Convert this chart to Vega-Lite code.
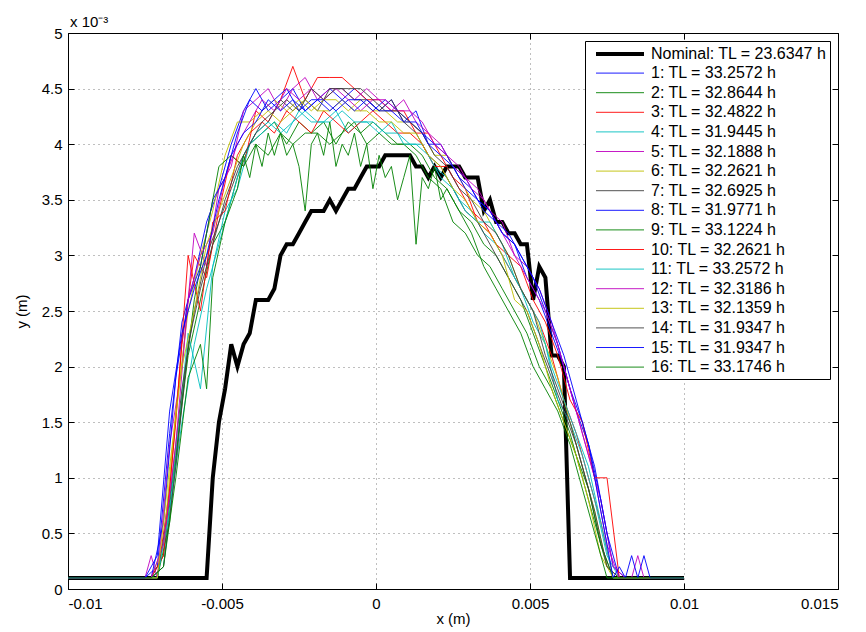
{
"$schema":"https://vega.github.io/schema/vega-lite/v6.json",
"width":770,"height":556,
"autosize":{"type":"none"},
"padding":{"left":68,"top":33,"right":28,"bottom":43},
"background":"#ffffff",
"title":{"text":"x 10⁻³","anchor":"start","frame":"group","offset":-4,"dx":2,"font":"Liberation Sans","fontSize":15,"fontWeight":"normal","color":"#000"},
"config":{
"font":"Liberation Sans",
"view":{"stroke":"#000","strokeWidth":1},
"axis":{"domain":false,"labelFont":"Liberation Sans","labelFontSize":15,"labelColor":"#000","titleFont":"Liberation Sans","titleFontSize":15,"titleFontWeight":"normal","titleColor":"#000","tickColor":"#000","tickSize":-6,"gridColor":"#000","gridDash":[1,4],"gridOpacity":0.5,"gridWidth":1},
"axisX":{"labelPadding":13,"titlePadding":0},
"axisY":{"labelPadding":12,"titlePadding":12},
"legend":{"orient":"top-right","offset":8,"title":null,"strokeColor":"#000","fillColor":"#fff","padding":3,"labelFont":"Liberation Sans","labelFontSize":16,"labelColor":"#000","symbolType":"M-3,0H3","symbolSize":256,"symbolOffset":22,"rowPadding":2.6,"labelOffset":21,"labelLimit":400}
},
"data":{"values":[
{"s":0,"x":-0.01,"y":0.1},{"s":0,"x":-0.0055,"y":0.1},{"s":0,"x":-0.0053,"y":1.0},{"s":0,"x":-0.0051,"y":1.5},{"s":0,"x":-0.0049,"y":1.8},{"s":0,"x":-0.0047,"y":2.2},{"s":0,"x":-0.0045,"y":2.0},{"s":0,"x":-0.0043,"y":2.2},{"s":0,"x":-0.0041,"y":2.3},{"s":0,"x":-0.0039,"y":2.6},{"s":0,"x":-0.0037,"y":2.6},{"s":0,"x":-0.0035,"y":2.6},{"s":0,"x":-0.0033,"y":2.7},{"s":0,"x":-0.0031,"y":3.0},{"s":0,"x":-0.0029,"y":3.1},{"s":0,"x":-0.0027,"y":3.1},{"s":0,"x":-0.0025,"y":3.2},{"s":0,"x":-0.0023,"y":3.3},{"s":0,"x":-0.0021,"y":3.4},{"s":0,"x":-0.0019,"y":3.4},{"s":0,"x":-0.0017,"y":3.4},{"s":0,"x":-0.0015,"y":3.5},{"s":0,"x":-0.0013,"y":3.4},{"s":0,"x":-0.0011,"y":3.5},{"s":0,"x":-0.0009,"y":3.6},{"s":0,"x":-0.0007,"y":3.6},{"s":0,"x":-0.0005,"y":3.7},{"s":0,"x":-0.0003,"y":3.8},{"s":0,"x":-0.0001,"y":3.8},{"s":0,"x":0.0001,"y":3.8},{"s":0,"x":0.0003,"y":3.9},{"s":0,"x":0.0011,"y":3.9},{"s":0,"x":0.0013,"y":3.8},{"s":0,"x":0.0015,"y":3.8},{"s":0,"x":0.0017,"y":3.7},{"s":0,"x":0.0019,"y":3.8},{"s":0,"x":0.0021,"y":3.7},{"s":0,"x":0.0023,"y":3.8},{"s":0,"x":0.0027,"y":3.8},{"s":0,"x":0.0029,"y":3.7},{"s":0,"x":0.0033,"y":3.7},{"s":0,"x":0.0035,"y":3.4},{"s":0,"x":0.0037,"y":3.5},{"s":0,"x":0.0039,"y":3.3},{"s":0,"x":0.0041,"y":3.3},{"s":0,"x":0.0043,"y":3.2},{"s":0,"x":0.0045,"y":3.2},{"s":0,"x":0.0047,"y":3.1},{"s":0,"x":0.0049,"y":3.1},{"s":0,"x":0.0051,"y":2.6},{"s":0,"x":0.0053,"y":2.9},{"s":0,"x":0.0055,"y":2.8},{"s":0,"x":0.0057,"y":2.1},{"s":0,"x":0.0059,"y":2.1},{"s":0,"x":0.0061,"y":2.0},{"s":0,"x":0.0063,"y":0.1},{"s":0,"x":0.01,"y":0.1},

{"s":1,"x":-0.01,"y":0.1},{"s":1,"x":-0.0075,"y":0.1},{"s":1,"x":-0.0071,"y":0.2},{"s":1,"x":-0.0067,"y":1.4},{"s":1,"x":-0.0063,"y":2.4},{"s":1,"x":-0.0059,"y":2.8},{"s":1,"x":-0.0055,"y":3.3},{"s":1,"x":-0.0051,"y":3.6},{"s":1,"x":-0.0047,"y":4.0},{"s":1,"x":-0.0043,"y":4.3},{"s":1,"x":-0.0039,"y":4.5},{"s":1,"x":-0.0035,"y":4.3},{"s":1,"x":-0.0031,"y":4.4},{"s":1,"x":-0.0027,"y":4.5},{"s":1,"x":-0.0023,"y":4.3},{"s":1,"x":-0.0019,"y":4.4},{"s":1,"x":-0.0015,"y":4.5},{"s":1,"x":-0.0011,"y":4.4},{"s":1,"x":-0.0007,"y":4.5},{"s":1,"x":-0.0003,"y":4.4},{"s":1,"x":0.0001,"y":4.3},{"s":1,"x":0.0005,"y":4.4},{"s":1,"x":0.0009,"y":4.2},{"s":1,"x":0.0013,"y":4.3},{"s":1,"x":0.0017,"y":4.0},{"s":1,"x":0.0021,"y":4.0},{"s":1,"x":0.0025,"y":3.8},{"s":1,"x":0.0029,"y":3.7},{"s":1,"x":0.0033,"y":3.5},{"s":1,"x":0.0037,"y":3.4},{"s":1,"x":0.0041,"y":3.2},{"s":1,"x":0.0045,"y":3.1},{"s":1,"x":0.0049,"y":2.8},{"s":1,"x":0.0053,"y":2.6},{"s":1,"x":0.0057,"y":2.3},{"s":1,"x":0.0061,"y":2.0},{"s":1,"x":0.0065,"y":1.6},{"s":1,"x":0.0069,"y":1.3},{"s":1,"x":0.0073,"y":0.8},{"s":1,"x":0.0077,"y":0.2},{"s":1,"x":0.0081,"y":0.1},{"s":1,"x":0.01,"y":0.1},

{"s":2,"x":-0.01,"y":0.1},{"s":2,"x":-0.0073,"y":0.1},{"s":2,"x":-0.0069,"y":0.3},{"s":2,"x":-0.0065,"y":1.2},{"s":2,"x":-0.0061,"y":2.1},{"s":2,"x":-0.0057,"y":2.6},{"s":2,"x":-0.0053,"y":3.1},{"s":2,"x":-0.0049,"y":3.3},{"s":2,"x":-0.0045,"y":3.7},{"s":2,"x":-0.0041,"y":4.0},{"s":2,"x":-0.0037,"y":4.1},{"s":2,"x":-0.0033,"y":4.2},{"s":2,"x":-0.0029,"y":4.0},{"s":2,"x":-0.0025,"y":4.2},{"s":2,"x":-0.0021,"y":4.1},{"s":2,"x":-0.0017,"y":4.2},{"s":2,"x":-0.0013,"y":4.0},{"s":2,"x":-0.0009,"y":4.2},{"s":2,"x":-0.0005,"y":4.1},{"s":2,"x":-0.0001,"y":4.2},{"s":2,"x":0.0003,"y":4.1},{"s":2,"x":0.0007,"y":4.0},{"s":2,"x":0.0011,"y":4.0},{"s":2,"x":0.0015,"y":3.9},{"s":2,"x":0.0019,"y":3.7},{"s":2,"x":0.0023,"y":3.6},{"s":2,"x":0.0027,"y":3.4},{"s":2,"x":0.0031,"y":3.3},{"s":2,"x":0.0035,"y":3.1},{"s":2,"x":0.0039,"y":3.0},{"s":2,"x":0.0043,"y":2.8},{"s":2,"x":0.0047,"y":2.6},{"s":2,"x":0.0051,"y":2.3},{"s":2,"x":0.0055,"y":2.0},{"s":2,"x":0.0059,"y":1.7},{"s":2,"x":0.0063,"y":1.4},{"s":2,"x":0.0067,"y":1.0},{"s":2,"x":0.0071,"y":0.6},{"s":2,"x":0.0075,"y":0.2},{"s":2,"x":0.0079,"y":0.1},{"s":2,"x":0.01,"y":0.1},

{"s":3,"x":-0.01,"y":0.1},{"s":3,"x":-0.0075,"y":0.1},{"s":3,"x":-0.0071,"y":0.1},{"s":3,"x":-0.0067,"y":0.9},{"s":3,"x":-0.0063,"y":2.2},{"s":3,"x":-0.0059,"y":3.0},{"s":3,"x":-0.0055,"y":2.8},{"s":3,"x":-0.0051,"y":3.4},{"s":3,"x":-0.0047,"y":3.9},{"s":3,"x":-0.0043,"y":3.8},{"s":3,"x":-0.0039,"y":4.3},{"s":3,"x":-0.0035,"y":4.2},{"s":3,"x":-0.0031,"y":4.4},{"s":3,"x":-0.0027,"y":4.7},{"s":3,"x":-0.0023,"y":4.4},{"s":3,"x":-0.0019,"y":4.6},{"s":3,"x":-0.0015,"y":4.6},{"s":3,"x":-0.0011,"y":4.6},{"s":3,"x":-0.0007,"y":4.5},{"s":3,"x":-0.0003,"y":4.4},{"s":3,"x":0.0001,"y":4.4},{"s":3,"x":0.0005,"y":4.3},{"s":3,"x":0.0009,"y":4.3},{"s":3,"x":0.0013,"y":4.1},{"s":3,"x":0.0017,"y":4.1},{"s":3,"x":0.0021,"y":3.9},{"s":3,"x":0.0025,"y":3.7},{"s":3,"x":0.0029,"y":3.6},{"s":3,"x":0.0033,"y":3.3},{"s":3,"x":0.0037,"y":3.2},{"s":3,"x":0.0041,"y":3.0},{"s":3,"x":0.0045,"y":2.8},{"s":3,"x":0.0049,"y":2.6},{"s":3,"x":0.0053,"y":2.4},{"s":3,"x":0.0057,"y":2.1},{"s":3,"x":0.0061,"y":1.7},{"s":3,"x":0.0065,"y":1.4},{"s":3,"x":0.0069,"y":1.0},{"s":3,"x":0.0073,"y":0.6},{"s":3,"x":0.0077,"y":0.1},{"s":3,"x":0.01,"y":0.1},

{"s":4,"x":-0.01,"y":0.1},{"s":4,"x":-0.0073,"y":0.1},{"s":4,"x":-0.0069,"y":0.2},{"s":4,"x":-0.0065,"y":1.2},{"s":4,"x":-0.0061,"y":2.3},{"s":4,"x":-0.0057,"y":1.8},{"s":4,"x":-0.0053,"y":2.9},{"s":4,"x":-0.0049,"y":3.4},{"s":4,"x":-0.0045,"y":3.6},{"s":4,"x":-0.0041,"y":4.0},{"s":4,"x":-0.0037,"y":4.1},{"s":4,"x":-0.0033,"y":4.2},{"s":4,"x":-0.0029,"y":4.1},{"s":4,"x":-0.0025,"y":4.3},{"s":4,"x":-0.0021,"y":4.2},{"s":4,"x":-0.0017,"y":4.2},{"s":4,"x":-0.0013,"y":4.3},{"s":4,"x":-0.0009,"y":4.1},{"s":4,"x":-0.0005,"y":4.2},{"s":4,"x":-0.0001,"y":4.2},{"s":4,"x":0.0003,"y":4.1},{"s":4,"x":0.0007,"y":4.1},{"s":4,"x":0.0011,"y":4.0},{"s":4,"x":0.0015,"y":4.0},{"s":4,"x":0.0019,"y":3.8},{"s":4,"x":0.0023,"y":3.7},{"s":4,"x":0.0027,"y":3.5},{"s":4,"x":0.0031,"y":3.4},{"s":4,"x":0.0035,"y":3.2},{"s":4,"x":0.0039,"y":3.1},{"s":4,"x":0.0043,"y":2.9},{"s":4,"x":0.0047,"y":2.7},{"s":4,"x":0.0051,"y":2.4},{"s":4,"x":0.0055,"y":2.2},{"s":4,"x":0.0059,"y":1.7},{"s":4,"x":0.0063,"y":1.5},{"s":4,"x":0.0067,"y":1.2},{"s":4,"x":0.0071,"y":0.8},{"s":4,"x":0.0075,"y":0.3},{"s":4,"x":0.0079,"y":0.1},{"s":4,"x":0.01,"y":0.1},

{"s":5,"x":-0.01,"y":0.1},{"s":5,"x":-0.0075,"y":0.1},{"s":5,"x":-0.0073,"y":0.3},{"s":5,"x":-0.0071,"y":0.1},{"s":5,"x":-0.0067,"y":1.3},{"s":5,"x":-0.0063,"y":2.0},{"s":5,"x":-0.0059,"y":3.2},{"s":5,"x":-0.0055,"y":2.9},{"s":5,"x":-0.0051,"y":3.6},{"s":5,"x":-0.0047,"y":3.8},{"s":5,"x":-0.0043,"y":4.3},{"s":5,"x":-0.0039,"y":4.4},{"s":5,"x":-0.0035,"y":4.5},{"s":5,"x":-0.0031,"y":4.3},{"s":5,"x":-0.0027,"y":4.5},{"s":5,"x":-0.0023,"y":4.6},{"s":5,"x":-0.0019,"y":4.4},{"s":5,"x":-0.0015,"y":4.5},{"s":5,"x":-0.0011,"y":4.5},{"s":5,"x":-0.0007,"y":4.4},{"s":5,"x":-0.0003,"y":4.5},{"s":5,"x":0.0001,"y":4.4},{"s":5,"x":0.0005,"y":4.3},{"s":5,"x":0.0009,"y":4.4},{"s":5,"x":0.0013,"y":4.2},{"s":5,"x":0.0017,"y":4.1},{"s":5,"x":0.0021,"y":4.0},{"s":5,"x":0.0025,"y":3.8},{"s":5,"x":0.0029,"y":3.7},{"s":5,"x":0.0033,"y":3.6},{"s":5,"x":0.0037,"y":3.4},{"s":5,"x":0.0041,"y":3.3},{"s":5,"x":0.0045,"y":3.0},{"s":5,"x":0.0049,"y":2.9},{"s":5,"x":0.0053,"y":2.7},{"s":5,"x":0.0057,"y":2.4},{"s":5,"x":0.0061,"y":2.0},{"s":5,"x":0.0065,"y":1.6},{"s":5,"x":0.0069,"y":1.2},{"s":5,"x":0.0073,"y":0.8},{"s":5,"x":0.0077,"y":0.2},{"s":5,"x":0.0081,"y":0.1},{"s":5,"x":0.01,"y":0.1},

{"s":6,"x":-0.01,"y":0.1},{"s":6,"x":-0.0073,"y":0.1},{"s":6,"x":-0.0069,"y":0.4},{"s":6,"x":-0.0065,"y":1.6},{"s":6,"x":-0.0061,"y":2.5},{"s":6,"x":-0.0057,"y":3.0},{"s":6,"x":-0.0053,"y":3.4},{"s":6,"x":-0.0049,"y":3.9},{"s":6,"x":-0.0045,"y":4.2},{"s":6,"x":-0.0041,"y":4.2},{"s":6,"x":-0.0037,"y":4.3},{"s":6,"x":-0.0033,"y":4.4},{"s":6,"x":-0.0029,"y":4.3},{"s":6,"x":-0.0025,"y":4.4},{"s":6,"x":-0.0021,"y":4.3},{"s":6,"x":-0.0017,"y":4.4},{"s":6,"x":-0.0013,"y":4.4},{"s":6,"x":-0.0009,"y":4.3},{"s":6,"x":-0.0005,"y":4.4},{"s":6,"x":-0.0001,"y":4.3},{"s":6,"x":0.0003,"y":4.3},{"s":6,"x":0.0007,"y":4.2},{"s":6,"x":0.0011,"y":4.2},{"s":6,"x":0.0015,"y":4.1},{"s":6,"x":0.0019,"y":3.9},{"s":6,"x":0.0023,"y":3.9},{"s":6,"x":0.0027,"y":3.7},{"s":6,"x":0.0031,"y":3.5},{"s":6,"x":0.0035,"y":3.4},{"s":6,"x":0.0039,"y":3.2},{"s":6,"x":0.0043,"y":3.0},{"s":6,"x":0.0047,"y":2.7},{"s":6,"x":0.0051,"y":2.5},{"s":6,"x":0.0055,"y":2.2},{"s":6,"x":0.0059,"y":1.9},{"s":6,"x":0.0063,"y":1.5},{"s":6,"x":0.0067,"y":1.1},{"s":6,"x":0.0071,"y":0.7},{"s":6,"x":0.0075,"y":0.2},{"s":6,"x":0.0079,"y":0.1},{"s":6,"x":0.01,"y":0.1},

{"s":7,"x":-0.01,"y":0.1},{"s":7,"x":-0.0075,"y":0.1},{"s":7,"x":-0.0071,"y":0.1},{"s":7,"x":-0.0067,"y":0.8},{"s":7,"x":-0.0063,"y":1.8},{"s":7,"x":-0.0059,"y":2.5},{"s":7,"x":-0.0055,"y":3.0},{"s":7,"x":-0.0051,"y":3.3},{"s":7,"x":-0.0047,"y":3.6},{"s":7,"x":-0.0043,"y":3.9},{"s":7,"x":-0.0039,"y":4.1},{"s":7,"x":-0.0035,"y":4.2},{"s":7,"x":-0.0031,"y":4.4},{"s":7,"x":-0.0027,"y":4.3},{"s":7,"x":-0.0023,"y":4.4},{"s":7,"x":-0.0019,"y":4.3},{"s":7,"x":-0.0015,"y":4.5},{"s":7,"x":-0.0011,"y":4.5},{"s":7,"x":-0.0007,"y":4.4},{"s":7,"x":-0.0003,"y":4.4},{"s":7,"x":0.0001,"y":4.3},{"s":7,"x":0.0005,"y":4.4},{"s":7,"x":0.0009,"y":4.2},{"s":7,"x":0.0013,"y":4.1},{"s":7,"x":0.0017,"y":3.9},{"s":7,"x":0.0021,"y":3.8},{"s":7,"x":0.0025,"y":3.6},{"s":7,"x":0.0029,"y":3.4},{"s":7,"x":0.0033,"y":3.3},{"s":7,"x":0.0037,"y":3.1},{"s":7,"x":0.0041,"y":2.9},{"s":7,"x":0.0045,"y":2.7},{"s":7,"x":0.0049,"y":2.5},{"s":7,"x":0.0053,"y":2.2},{"s":7,"x":0.0057,"y":1.9},{"s":7,"x":0.0061,"y":1.6},{"s":7,"x":0.0065,"y":1.3},{"s":7,"x":0.0069,"y":0.9},{"s":7,"x":0.0073,"y":0.4},{"s":7,"x":0.0077,"y":0.1},{"s":7,"x":0.01,"y":0.1},

{"s":8,"x":-0.01,"y":0.1},{"s":8,"x":-0.0073,"y":0.1},{"s":8,"x":-0.0069,"y":0.6},{"s":8,"x":-0.0065,"y":1.9},{"s":8,"x":-0.0061,"y":2.6},{"s":8,"x":-0.0057,"y":2.9},{"s":8,"x":-0.0053,"y":3.5},{"s":8,"x":-0.0049,"y":3.7},{"s":8,"x":-0.0045,"y":4.1},{"s":8,"x":-0.0041,"y":4.4},{"s":8,"x":-0.0037,"y":4.3},{"s":8,"x":-0.0033,"y":4.4},{"s":8,"x":-0.0029,"y":4.5},{"s":8,"x":-0.0025,"y":4.3},{"s":8,"x":-0.0021,"y":4.4},{"s":8,"x":-0.0017,"y":4.4},{"s":8,"x":-0.0013,"y":4.3},{"s":8,"x":-0.0009,"y":4.4},{"s":8,"x":-0.0005,"y":4.4},{"s":8,"x":-0.0001,"y":4.3},{"s":8,"x":0.0003,"y":4.4},{"s":8,"x":0.0007,"y":4.3},{"s":8,"x":0.0011,"y":4.2},{"s":8,"x":0.0015,"y":4.1},{"s":8,"x":0.0019,"y":4.0},{"s":8,"x":0.0023,"y":3.9},{"s":8,"x":0.0027,"y":3.7},{"s":8,"x":0.0031,"y":3.6},{"s":8,"x":0.0035,"y":3.4},{"s":8,"x":0.0039,"y":3.3},{"s":8,"x":0.0043,"y":3.2},{"s":8,"x":0.0047,"y":3.0},{"s":8,"x":0.0051,"y":2.8},{"s":8,"x":0.0055,"y":2.5},{"s":8,"x":0.0059,"y":2.2},{"s":8,"x":0.0063,"y":1.8},{"s":8,"x":0.0067,"y":1.5},{"s":8,"x":0.0071,"y":1.1},{"s":8,"x":0.0075,"y":0.5},{"s":8,"x":0.0079,"y":0.1},{"s":8,"x":0.01,"y":0.1},

{"s":9,"x":-0.01,"y":0.1},{"s":9,"x":-0.0075,"y":0.1},{"s":9,"x":-0.0071,"y":0.1},{"s":9,"x":-0.0067,"y":0.6},{"s":9,"x":-0.0063,"y":1.7},{"s":9,"x":-0.0059,"y":2.6},{"s":9,"x":-0.0055,"y":3.2},{"s":9,"x":-0.0051,"y":3.8},{"s":9,"x":-0.0047,"y":3.9},{"s":9,"x":-0.0043,"y":3.8},{"s":9,"x":-0.0039,"y":4.0},{"s":9,"x":-0.0035,"y":3.9},{"s":9,"x":-0.0031,"y":4.1},{"s":9,"x":-0.0027,"y":4.0},{"s":9,"x":-0.0023,"y":4.1},{"s":9,"x":-0.0019,"y":4.1},{"s":9,"x":-0.0015,"y":4.0},{"s":9,"x":-0.0011,"y":4.1},{"s":9,"x":-0.0007,"y":4.2},{"s":9,"x":-0.0003,"y":4.0},{"s":9,"x":0.0001,"y":4.1},{"s":9,"x":0.0005,"y":4.0},{"s":9,"x":0.0009,"y":4.0},{"s":9,"x":0.0013,"y":3.9},{"s":9,"x":0.0017,"y":3.7},{"s":9,"x":0.0021,"y":3.6},{"s":9,"x":0.0025,"y":3.3},{"s":9,"x":0.0029,"y":3.2},{"s":9,"x":0.0033,"y":3.0},{"s":9,"x":0.0037,"y":2.9},{"s":9,"x":0.0041,"y":2.7},{"s":9,"x":0.0045,"y":2.5},{"s":9,"x":0.0049,"y":2.3},{"s":9,"x":0.0053,"y":2.0},{"s":9,"x":0.0057,"y":1.8},{"s":9,"x":0.0061,"y":1.5},{"s":9,"x":0.0065,"y":1.2},{"s":9,"x":0.0069,"y":0.9},{"s":9,"x":0.0073,"y":0.4},{"s":9,"x":0.0077,"y":0.1},{"s":9,"x":0.01,"y":0.1},

{"s":10,"x":-0.01,"y":0.1},{"s":10,"x":-0.0073,"y":0.1},{"s":10,"x":-0.0069,"y":0.3},{"s":10,"x":-0.0065,"y":1.5},{"s":10,"x":-0.0061,"y":3.0},{"s":10,"x":-0.0057,"y":2.5},{"s":10,"x":-0.0053,"y":3.3},{"s":10,"x":-0.0049,"y":3.4},{"s":10,"x":-0.0045,"y":3.9},{"s":10,"x":-0.0041,"y":4.1},{"s":10,"x":-0.0037,"y":4.2},{"s":10,"x":-0.0033,"y":4.1},{"s":10,"x":-0.0029,"y":4.3},{"s":10,"x":-0.0025,"y":4.2},{"s":10,"x":-0.0021,"y":4.1},{"s":10,"x":-0.0017,"y":4.3},{"s":10,"x":-0.0013,"y":4.2},{"s":10,"x":-0.0009,"y":4.1},{"s":10,"x":-0.0005,"y":4.2},{"s":10,"x":-0.0001,"y":4.3},{"s":10,"x":0.0003,"y":4.2},{"s":10,"x":0.0007,"y":4.1},{"s":10,"x":0.0011,"y":4.1},{"s":10,"x":0.0015,"y":4.0},{"s":10,"x":0.0019,"y":3.8},{"s":10,"x":0.0023,"y":3.8},{"s":10,"x":0.0027,"y":3.6},{"s":10,"x":0.0031,"y":3.4},{"s":10,"x":0.0035,"y":3.3},{"s":10,"x":0.0039,"y":3.1},{"s":10,"x":0.0043,"y":3.0},{"s":10,"x":0.0047,"y":2.9},{"s":10,"x":0.0051,"y":2.6},{"s":10,"x":0.0055,"y":2.4},{"s":10,"x":0.0059,"y":2.1},{"s":10,"x":0.0063,"y":1.7},{"s":10,"x":0.0067,"y":1.5},{"s":10,"x":0.0071,"y":1.0},{"s":10,"x":0.0075,"y":1.0},{"s":10,"x":0.0079,"y":0.1},{"s":10,"x":0.01,"y":0.1},

{"s":11,"x":-0.01,"y":0.1},{"s":11,"x":-0.0075,"y":0.1},{"s":11,"x":-0.0071,"y":0.1},{"s":11,"x":-0.0067,"y":0.7},{"s":11,"x":-0.0063,"y":1.5},{"s":11,"x":-0.0059,"y":2.2},{"s":11,"x":-0.0055,"y":2.7},{"s":11,"x":-0.0051,"y":3.1},{"s":11,"x":-0.0047,"y":3.5},{"s":11,"x":-0.0043,"y":3.9},{"s":11,"x":-0.0039,"y":4.1},{"s":11,"x":-0.0035,"y":4.2},{"s":11,"x":-0.0031,"y":4.1},{"s":11,"x":-0.0027,"y":4.2},{"s":11,"x":-0.0023,"y":4.3},{"s":11,"x":-0.0019,"y":4.2},{"s":11,"x":-0.0015,"y":4.2},{"s":11,"x":-0.0011,"y":4.3},{"s":11,"x":-0.0007,"y":4.2},{"s":11,"x":-0.0003,"y":4.2},{"s":11,"x":0.0001,"y":4.1},{"s":11,"x":0.0005,"y":4.2},{"s":11,"x":0.0009,"y":4.0},{"s":11,"x":0.0013,"y":4.0},{"s":11,"x":0.0017,"y":3.9},{"s":11,"x":0.0021,"y":3.7},{"s":11,"x":0.0025,"y":3.6},{"s":11,"x":0.0029,"y":3.4},{"s":11,"x":0.0033,"y":3.3},{"s":11,"x":0.0037,"y":3.3},{"s":11,"x":0.0041,"y":3.1},{"s":11,"x":0.0045,"y":2.8},{"s":11,"x":0.0049,"y":2.6},{"s":11,"x":0.0053,"y":2.4},{"s":11,"x":0.0057,"y":2.0},{"s":11,"x":0.0061,"y":1.7},{"s":11,"x":0.0065,"y":1.4},{"s":11,"x":0.0069,"y":1.1},{"s":11,"x":0.0073,"y":0.6},{"s":11,"x":0.0077,"y":0.1},{"s":11,"x":0.01,"y":0.1},

{"s":12,"x":-0.01,"y":0.1},{"s":12,"x":-0.0073,"y":0.1},{"s":12,"x":-0.0069,"y":0.4},{"s":12,"x":-0.0065,"y":1.3},{"s":12,"x":-0.0061,"y":2.6},{"s":12,"x":-0.0057,"y":3.0},{"s":12,"x":-0.0053,"y":3.2},{"s":12,"x":-0.0049,"y":3.7},{"s":12,"x":-0.0045,"y":4.0},{"s":12,"x":-0.0041,"y":4.2},{"s":12,"x":-0.0037,"y":4.4},{"s":12,"x":-0.0033,"y":4.3},{"s":12,"x":-0.0029,"y":4.5},{"s":12,"x":-0.0025,"y":4.4},{"s":12,"x":-0.0021,"y":4.5},{"s":12,"x":-0.0017,"y":4.4},{"s":12,"x":-0.0013,"y":4.5},{"s":12,"x":-0.0009,"y":4.4},{"s":12,"x":-0.0005,"y":4.3},{"s":12,"x":-0.0001,"y":4.4},{"s":12,"x":0.0003,"y":4.4},{"s":12,"x":0.0007,"y":4.3},{"s":12,"x":0.0011,"y":4.3},{"s":12,"x":0.0015,"y":4.2},{"s":12,"x":0.0019,"y":4.0},{"s":12,"x":0.0023,"y":3.9},{"s":12,"x":0.0027,"y":3.8},{"s":12,"x":0.0031,"y":3.6},{"s":12,"x":0.0035,"y":3.5},{"s":12,"x":0.0039,"y":3.3},{"s":12,"x":0.0043,"y":3.1},{"s":12,"x":0.0047,"y":2.9},{"s":12,"x":0.0051,"y":2.7},{"s":12,"x":0.0055,"y":2.5},{"s":12,"x":0.0059,"y":2.2},{"s":12,"x":0.0063,"y":1.8},{"s":12,"x":0.0067,"y":1.4},{"s":12,"x":0.0071,"y":1.0},{"s":12,"x":0.0075,"y":0.4},{"s":12,"x":0.0079,"y":0.1},{"s":12,"x":0.0083,"y":0.1},{"s":12,"x":0.0085,"y":0.3},{"s":12,"x":0.0087,"y":0.1},{"s":12,"x":0.01,"y":0.1},

{"s":13,"x":-0.01,"y":0.1},{"s":13,"x":-0.0075,"y":0.1},{"s":13,"x":-0.0071,"y":0.1},{"s":13,"x":-0.0067,"y":1.1},{"s":13,"x":-0.0063,"y":2.0},{"s":13,"x":-0.0059,"y":2.5},{"s":13,"x":-0.0055,"y":3.1},{"s":13,"x":-0.0051,"y":3.4},{"s":13,"x":-0.0047,"y":3.7},{"s":13,"x":-0.0043,"y":4.0},{"s":13,"x":-0.0039,"y":4.2},{"s":13,"x":-0.0035,"y":4.3},{"s":13,"x":-0.0031,"y":4.2},{"s":13,"x":-0.0027,"y":4.3},{"s":13,"x":-0.0023,"y":4.4},{"s":13,"x":-0.0019,"y":4.3},{"s":13,"x":-0.0015,"y":4.3},{"s":13,"x":-0.0011,"y":4.4},{"s":13,"x":-0.0007,"y":4.3},{"s":13,"x":-0.0003,"y":4.3},{"s":13,"x":0.0001,"y":4.2},{"s":13,"x":0.0005,"y":4.2},{"s":13,"x":0.0009,"y":4.1},{"s":13,"x":0.0013,"y":4.1},{"s":13,"x":0.0017,"y":3.9},{"s":13,"x":0.0021,"y":3.8},{"s":13,"x":0.0025,"y":3.6},{"s":13,"x":0.0029,"y":3.5},{"s":13,"x":0.0033,"y":3.3},{"s":13,"x":0.0037,"y":3.2},{"s":13,"x":0.0041,"y":3.0},{"s":13,"x":0.0045,"y":2.6},{"s":13,"x":0.0049,"y":2.5},{"s":13,"x":0.0053,"y":2.2},{"s":13,"x":0.0057,"y":1.8},{"s":13,"x":0.0061,"y":1.5},{"s":13,"x":0.0065,"y":1.2},{"s":13,"x":0.0069,"y":0.8},{"s":13,"x":0.0073,"y":0.3},{"s":13,"x":0.0077,"y":0.1},{"s":13,"x":0.01,"y":0.1},

{"s":14,"x":-0.01,"y":0.1},{"s":14,"x":-0.0073,"y":0.1},{"s":14,"x":-0.0069,"y":0.2},{"s":14,"x":-0.0065,"y":1.1},{"s":14,"x":-0.0061,"y":2.2},{"s":14,"x":-0.0057,"y":2.7},{"s":14,"x":-0.0053,"y":3.1},{"s":14,"x":-0.0049,"y":3.5},{"s":14,"x":-0.0045,"y":3.8},{"s":14,"x":-0.0041,"y":4.0},{"s":14,"x":-0.0037,"y":4.2},{"s":14,"x":-0.0033,"y":4.3},{"s":14,"x":-0.0029,"y":4.4},{"s":14,"x":-0.0025,"y":4.3},{"s":14,"x":-0.0021,"y":4.5},{"s":14,"x":-0.0017,"y":4.4},{"s":14,"x":-0.0013,"y":4.5},{"s":14,"x":-0.0009,"y":4.5},{"s":14,"x":-0.0005,"y":4.5},{"s":14,"x":-0.0001,"y":4.4},{"s":14,"x":0.0003,"y":4.3},{"s":14,"x":0.0007,"y":4.3},{"s":14,"x":0.0011,"y":4.2},{"s":14,"x":0.0015,"y":4.1},{"s":14,"x":0.0019,"y":3.9},{"s":14,"x":0.0023,"y":3.8},{"s":14,"x":0.0027,"y":3.6},{"s":14,"x":0.0031,"y":3.5},{"s":14,"x":0.0035,"y":3.3},{"s":14,"x":0.0039,"y":3.2},{"s":14,"x":0.0043,"y":3.0},{"s":14,"x":0.0047,"y":2.7},{"s":14,"x":0.0051,"y":2.5},{"s":14,"x":0.0055,"y":2.1},{"s":14,"x":0.0059,"y":1.8},{"s":14,"x":0.0063,"y":1.5},{"s":14,"x":0.0067,"y":1.1},{"s":14,"x":0.0071,"y":0.7},{"s":14,"x":0.0075,"y":0.2},{"s":14,"x":0.0079,"y":0.1},{"s":14,"x":0.01,"y":0.1},

{"s":15,"x":-0.01,"y":0.1},{"s":15,"x":-0.0075,"y":0.1},{"s":15,"x":-0.0071,"y":0.3},{"s":15,"x":-0.0067,"y":1.6},{"s":15,"x":-0.0063,"y":2.3},{"s":15,"x":-0.0059,"y":2.7},{"s":15,"x":-0.0055,"y":3.0},{"s":15,"x":-0.0051,"y":3.5},{"s":15,"x":-0.0047,"y":3.9},{"s":15,"x":-0.0043,"y":4.1},{"s":15,"x":-0.0039,"y":4.2},{"s":15,"x":-0.0035,"y":4.4},{"s":15,"x":-0.0031,"y":4.3},{"s":15,"x":-0.0027,"y":4.4},{"s":15,"x":-0.0023,"y":4.3},{"s":15,"x":-0.0019,"y":4.4},{"s":15,"x":-0.0015,"y":4.3},{"s":15,"x":-0.0011,"y":4.4},{"s":15,"x":-0.0007,"y":4.3},{"s":15,"x":-0.0003,"y":4.4},{"s":15,"x":0.0001,"y":4.3},{"s":15,"x":0.0005,"y":4.3},{"s":15,"x":0.0009,"y":4.2},{"s":15,"x":0.0013,"y":4.2},{"s":15,"x":0.0017,"y":4.0},{"s":15,"x":0.0021,"y":3.9},{"s":15,"x":0.0025,"y":3.8},{"s":15,"x":0.0029,"y":3.6},{"s":15,"x":0.0033,"y":3.5},{"s":15,"x":0.0037,"y":3.4},{"s":15,"x":0.0041,"y":3.2},{"s":15,"x":0.0045,"y":3.1},{"s":15,"x":0.0049,"y":2.9},{"s":15,"x":0.0053,"y":2.7},{"s":15,"x":0.0057,"y":2.4},{"s":15,"x":0.0061,"y":2.1},{"s":15,"x":0.0065,"y":1.7},{"s":15,"x":0.0069,"y":1.3},{"s":15,"x":0.0073,"y":0.7},{"s":15,"x":0.0077,"y":0.1},{"s":15,"x":0.0079,"y":0.2},{"s":15,"x":0.0081,"y":0.1},{"s":15,"x":0.0083,"y":0.3},{"s":15,"x":0.0085,"y":0.1},{"s":15,"x":0.0087,"y":0.3},{"s":15,"x":0.0089,"y":0.1},{"s":15,"x":0.01,"y":0.1},

{"s":16,"x":-0.01,"y":0.1},{"s":16,"x":-0.0073,"y":0.1},{"s":16,"x":-0.0069,"y":0.2},{"s":16,"x":-0.0065,"y":1.0},{"s":16,"x":-0.0061,"y":1.9},{"s":16,"x":-0.0057,"y":2.2},{"s":16,"x":-0.0055,"y":1.8},{"s":16,"x":-0.0053,"y":2.8},{"s":16,"x":-0.0049,"y":3.3},{"s":16,"x":-0.0045,"y":3.6},{"s":16,"x":-0.0043,"y":3.9},{"s":16,"x":-0.0041,"y":3.7},{"s":16,"x":-0.0039,"y":4.0},{"s":16,"x":-0.0037,"y":3.8},{"s":16,"x":-0.0035,"y":4.1},{"s":16,"x":-0.0033,"y":3.9},{"s":16,"x":-0.0031,"y":4.1},{"s":16,"x":-0.0029,"y":3.9},{"s":16,"x":-0.0027,"y":4.0},{"s":16,"x":-0.0025,"y":3.8},{"s":16,"x":-0.0023,"y":3.4},{"s":16,"x":-0.0021,"y":4.0},{"s":16,"x":-0.0019,"y":4.1},{"s":16,"x":-0.0017,"y":3.9},{"s":16,"x":-0.0015,"y":4.2},{"s":16,"x":-0.0013,"y":3.8},{"s":16,"x":-0.0011,"y":4.0},{"s":16,"x":-0.0009,"y":3.9},{"s":16,"x":-0.0007,"y":4.1},{"s":16,"x":-0.0005,"y":3.8},{"s":16,"x":-0.0003,"y":4.0},{"s":16,"x":-0.0001,"y":3.6},{"s":16,"x":0.0001,"y":3.9},{"s":16,"x":0.0003,"y":3.7},{"s":16,"x":0.0005,"y":3.8},{"s":16,"x":0.0007,"y":3.5},{"s":16,"x":0.0009,"y":3.7},{"s":16,"x":0.0011,"y":3.9},{"s":16,"x":0.0013,"y":3.1},{"s":16,"x":0.0015,"y":3.7},{"s":16,"x":0.0017,"y":3.6},{"s":16,"x":0.0019,"y":3.8},{"s":16,"x":0.0021,"y":3.5},{"s":16,"x":0.0023,"y":3.6},{"s":16,"x":0.0027,"y":3.4},{"s":16,"x":0.0031,"y":3.2},{"s":16,"x":0.0035,"y":2.9},{"s":16,"x":0.0039,"y":2.7},{"s":16,"x":0.0043,"y":2.5},{"s":16,"x":0.0047,"y":2.3},{"s":16,"x":0.0051,"y":2.0},{"s":16,"x":0.0055,"y":1.8},{"s":16,"x":0.0059,"y":1.6},{"s":16,"x":0.0063,"y":1.3},{"s":16,"x":0.0067,"y":0.9},{"s":16,"x":0.0071,"y":0.5},{"s":16,"x":0.0075,"y":0.1},{"s":16,"x":0.01,"y":0.1}
]},
"layer":[
{"mark":{"type":"line","strokeJoin":"miter","clip":true},
"encoding":{
"x":{"field":"x","type":"quantitative","scale":{"domain":[-0.01,0.015],"nice":false,"zero":false},"axis":{"title":"x (m)","values":[-0.01,-0.005,0,0.005,0.01,0.015],"labelExpr":"toString(datum.value)"}},
"y":{"field":"y","type":"quantitative","scale":{"domain":[0,5],"nice":false},"axis":{"title":"y (m)","values":[0,0.5,1,1.5,2,2.5,3,3.5,4,4.5,5],"labelExpr":"toString(datum.value)"}},
"color":{"field":"s","type":"ordinal","scale":{"domain":[0,1,2,3,4,5,6,7,8,9,10,11,12,13,14,15,16],"range":["#000000","#0000ff","#008000","#ff0000","#00bfbf","#bf00bf","#bfbf00","#404040","#0000ff","#008000","#ff0000","#00bfbf","#bf00bf","#bfbf00","#404040","#0000ff","#008000"]},"legend":{"encode":{"symbols":{"update":{"stroke":{"scale":"color","field":"value"},"fill":{"value":"transparent"}}}},"labelExpr":"['Nominal: TL = 23.6347 h','1: TL = 33.2572 h','2: TL = 32.8644 h','3: TL = 32.4822 h','4: TL = 31.9445 h','5: TL = 32.1888 h','6: TL = 32.2621 h','7: TL = 32.6925 h','8: TL = 31.9771 h','9: TL = 33.1224 h','10: TL = 32.2621 h','11: TL = 33.2572 h','12: TL = 32.3186 h','13: TL = 32.1359 h','14: TL = 31.9347 h','15: TL = 31.9347 h','16: TL = 33.1746 h'][datum.value]"}},
"strokeWidth":{"field":"s","type":"ordinal","scale":{"type":"ordinal","domain":[0,1,2,3,4,5,6,7,8,9,10,11,12,13,14,15,16],"range":[4,0.9,0.9,0.9,0.9,0.9,0.9,0.9,0.9,0.9,0.9,0.9,0.9,0.9,0.9,0.9,0.9]}}
}},
{"mark":{"type":"point","opacity":0},
"encoding":{
"x":{"field":"x","type":"quantitative","axis":{"orient":"top","labels":false,"grid":false,"title":null,"values":[-0.01,-0.005,0,0.005,0.01,0.015]}},
"y":{"field":"y","type":"quantitative","axis":{"orient":"right","labels":false,"grid":false,"title":null,"values":[0,0.5,1,1.5,2,2.5,3,3.5,4,4.5,5]}}
}}
],
"resolve":{"axis":{"x":"independent","y":"independent"}}
}
